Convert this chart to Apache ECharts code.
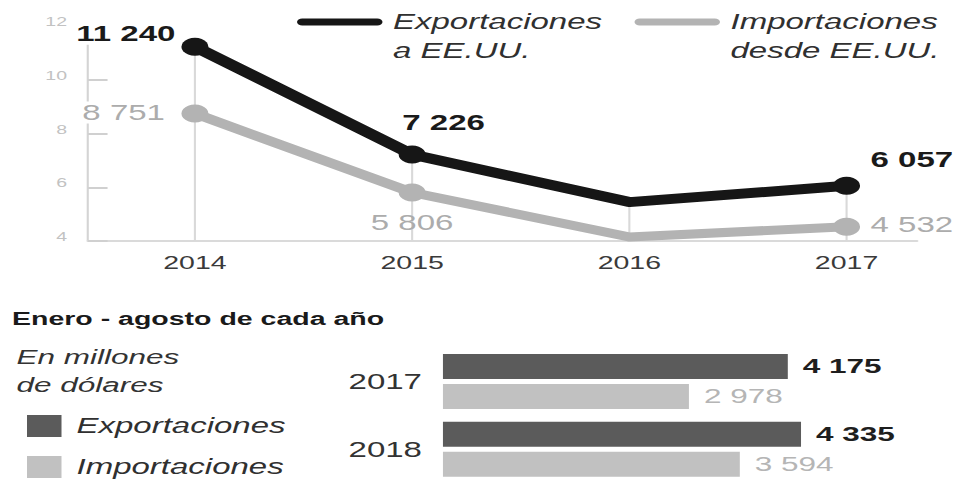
<!DOCTYPE html>
<html>
<head>
<meta charset="utf-8">
<script src="https://cdn.jsdelivr.net/npm/echarts@6/dist/echarts.min.js"></script>
<style>
  html, body { margin: 0; padding: 0; background: #fff; overflow: hidden; }
  /* the chart is laid out narrow and widened horizontally */
  #chart { width: 640px; height: 483px; transform: scaleX(1.5); transform-origin: 0 0; }
</style>
</head>
<body>
<div id="chart"></div>
<script>
// Annual trade with the US, millions of dollars
const years = [2014, 2015, 2016, 2017];
const exportsUS = [11240, 7226, 5450, 6057];
const importsUS = [8751, 5806, 4150, 4532];
// y-axis ticks, thousands of millions
const yTicks = [4, 6, 8, 10, 12];

// January-August of each year
const barYears = ['2017', '2018'];
const barExports = [4175, 4335];
const barImports = [2978, 3594];

const FONT = '"Liberation Sans", Arial, Helvetica, sans-serif';
const fmt = v => String(v).replace(/\B(?=(\d{3})+(?!\d))/g, ' ');

// where each value label sits around its point (null = unlabelled point)
const expPlace = [
  { position: 'left', distance: 2, offset: [0, -13] },
  { position: 'top', distance: 12, offset: [21, 0] },
  null,
  { position: 'right', distance: 5, offset: [0, -26] }
];
const impPlace = [
  { position: 'left', distance: 9, offset: [0, -1] },
  { position: 'bottom', distance: 10, offset: [0, 0], backgroundColor: 'transparent' },
  null,
  { position: 'right', distance: 5, offset: [0, -2] }
];

function pointData(values, places) {
  return years.map((y, i) => {
    const p = places[i];
    return p
      ? { value: [y, values[i]], symbol: 'circle', label: Object.assign({ show: true }, p) }
      : { value: [y, values[i]], symbol: 'none', label: { show: false } };
  });
}

// legend text: an empty leading line keeps the first text line level with the icon
const capsule = 'path://M3.5 0H53.5A3.5 3.5 0 0 1 53.5 7H3.5A3.5 3.5 0 0 1 3.5 0Z';
const legendTop = {
  padding: 0, top: -21.5, itemWidth: 57, itemHeight: 7, icon: capsule, selectedMode: false,
  itemStyle: { borderWidth: 0 },
  formatter: n => ' \n' + n.replace(/ (a|desde) /, '\n$1 '),
  textStyle: { fontSize: 22, fontStyle: 'italic', color: '#303030', lineHeight: 29, padding: [0, 0, 0, 2] }
};

const chart = echarts.init(document.getElementById('chart'), null, { renderer: 'svg' });
chart.setOption({
  animation: false,
  textStyle: { fontFamily: FONT },
  title: [
    { text: 'Enero - agosto de cada año', left: 8, top: 306, padding: 0,
      textStyle: { fontSize: 19, fontWeight: 'bold', color: '#1a1a1a', lineHeight: 24, fontFamily: FONT } },
    { text: 'En millones\nde dólares', left: 11, top: 342.5, padding: 0,
      textStyle: { fontSize: 21, fontStyle: 'italic', fontWeight: 'normal', color: '#333', lineHeight: 28, fontFamily: FONT } }
  ],
  legend: [
    Object.assign({ data: ['Exportaciones a EE.UU.'], left: 198 }, legendTop),
    Object.assign({ data: ['Importaciones desde EE.UU.'], left: 423 }, legendTop),
    { data: ['Exportaciones', 'Importaciones'], orient: 'vertical', left: 18, top: 415, padding: 0,
      itemGap: 19, itemWidth: 23, itemHeight: 22, icon: 'rect', selectedMode: false,
      textStyle: { fontSize: 22, fontStyle: 'italic', color: '#303030', lineHeight: 22, padding: [0, 0, 0, 5] } }
  ],
  grid: [
    { left: 58.7, right: 28.7, top: 26.4, bottom: 242 },
    { left: 295.3, right: 14.3, top: 347.5, bottom: -4.5 }
  ],
  xAxis: [
    { type: 'value', gridIndex: 0, min: 2013.508, max: 2017.324,
      axisLine: { show: true, onZero: false, lineStyle: { color: '#dadada', width: 2 } },
      axisTick: { show: false }, splitLine: { show: false },
      axisLabel: { customValues: years, formatter: v => String(v), color: '#3a3a3a', fontSize: 19, margin: 12 } },
    { type: 'value', gridIndex: 1, min: 0, max: 6000, show: false }
  ],
  yAxis: [
    { type: 'value', gridIndex: 0, min: yTicks[0] * 1000, max: yTicks[yTicks.length - 1] * 1000,
      interval: (yTicks[1] - yTicks[0]) * 1000,
      axisLine: { show: true, onZero: false, lineStyle: { color: '#d4d4d4', width: 1.4 } },
      axisTick: { show: true, inside: true, length: 13, lineStyle: { color: '#d0d0d0', width: 2 } },
      axisLabel: { formatter: v => String(v / 1000), color: '#c2c2c2', fontSize: 13, margin: 14,
        verticalAlign: 'bottom', lineHeight: 9 },
      splitLine: { show: false } },
    { type: 'category', gridIndex: 1, data: barYears, inverse: true,
      axisLine: { show: false }, axisTick: { show: false },
      axisLabel: { color: '#333', fontSize: 22, margin: 14 } }
  ],
  series: [
    // drop lines from each export point to the axis
    { type: 'bar', xAxisIndex: 0, yAxisIndex: 0, silent: true, z: 1, barWidth: 1.4,
      data: years.map((y, i) => [y, exportsUS[i]]), itemStyle: { color: '#d9d9d9' } },
    { type: 'line', name: 'Importaciones desde EE.UU.', xAxisIndex: 0, yAxisIndex: 0, z: 2, silent: true,
      data: pointData(importsUS, impPlace), symbolSize: 18,
      lineStyle: { color: '#b3b3b3', width: 9, cap: 'round', join: 'round' },
      itemStyle: { color: '#b3b3b3' },
      label: { formatter: p => fmt(p.value[1]), fontSize: 22, color: '#acacac', backgroundColor: '#fff', padding: [0, 2] } },
    { type: 'line', name: 'Exportaciones a EE.UU.', xAxisIndex: 0, yAxisIndex: 0, z: 3, silent: true,
      data: pointData(exportsUS, expPlace), symbolSize: 18,
      lineStyle: { color: '#161616', width: 10, cap: 'round', join: 'round' },
      itemStyle: { color: '#161616' },
      label: { formatter: p => fmt(p.value[1]), fontSize: 22, fontWeight: 'bold', color: '#1a1a1a', backgroundColor: '#fff', padding: [0, 2] } },
    { type: 'bar', name: 'Exportaciones', xAxisIndex: 1, yAxisIndex: 1, silent: true,
      data: barExports, barWidth: 25, barGap: '20%', itemStyle: { color: '#5b5b5b' },
      label: { show: true, position: 'right', distance: 10, formatter: p => fmt(p.value), fontSize: 21, fontWeight: 'bold', color: '#1e1e1e' } },
    { type: 'bar', name: 'Importaciones', xAxisIndex: 1, yAxisIndex: 1, silent: true,
      data: barImports, barWidth: 25, barGap: '20%', itemStyle: { color: '#c1c1c1' },
      label: { show: true, position: 'right', distance: 10, formatter: p => fmt(p.value), fontSize: 21, color: '#b5b5b5' } }
  ]
});
</script>
</body>
</html>
